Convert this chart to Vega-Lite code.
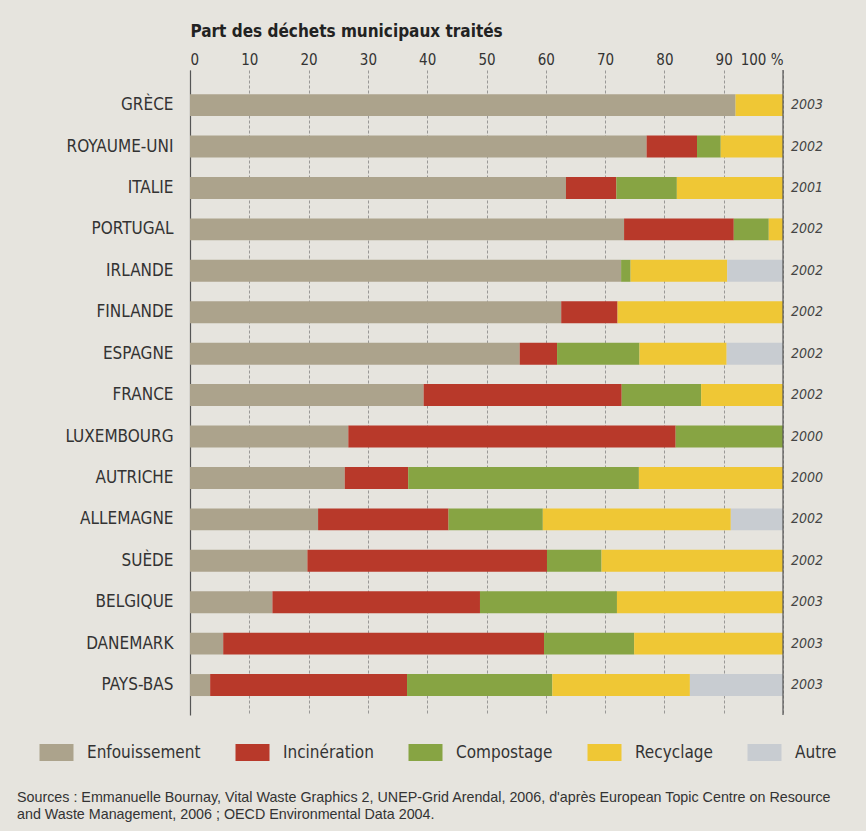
{
  "$schema": "https://vega.github.io/schema/vega-lite/v6.json",
  "width": 593,
  "height": 645,
  "autosize": {"type": "none"},
  "padding": {"left": 190, "top": 70, "right": 83, "bottom": 116},
  "background": "#e6e4de",
  "config": {"view": {"stroke": null}, "font": "Liberation Sans Narrow, DejaVu Sans Condensed, Roboto Condensed, Roboto, sans-serif"},
  "title": {
    "text": ["Sources : Emmanuelle Bournay, Vital Waste Graphics 2,  UNEP-Grid Arendal, 2006, d'après European Topic Centre on Resource", "and Waste Management, 2006 ; OECD Environmental Data 2004."],
    "orient": "bottom",
    "anchor": "start",
    "frame": "group",
    "font": "Liberation Sans, Arial, sans-serif",
    "fontSize": 14.3,
    "fontWeight": "normal",
    "color": "#333",
    "dx": -173,
    "offset": 30,
    "lineHeight": 17
  },
  "datasets": {
    "valeurs": [
      {"pays": "GRÈCE", "type": "Enfouissement", "rang": 1, "valeur": 92},
      {"pays": "GRÈCE", "type": "Recyclage", "rang": 4, "valeur": 8},
      {"pays": "ROYAUME-UNI", "type": "Enfouissement", "rang": 1, "valeur": 77},
      {"pays": "ROYAUME-UNI", "type": "Incinération", "rang": 2, "valeur": 8.5},
      {"pays": "ROYAUME-UNI", "type": "Compostage", "rang": 3, "valeur": 4},
      {"pays": "ROYAUME-UNI", "type": "Recyclage", "rang": 4, "valeur": 10.5},
      {"pays": "ITALIE", "type": "Enfouissement", "rang": 1, "valeur": 63.4},
      {"pays": "ITALIE", "type": "Incinération", "rang": 2, "valeur": 8.5},
      {"pays": "ITALIE", "type": "Compostage", "rang": 3, "valeur": 10.2},
      {"pays": "ITALIE", "type": "Recyclage", "rang": 4, "valeur": 17.9},
      {"pays": "PORTUGAL", "type": "Enfouissement", "rang": 1, "valeur": 73.2},
      {"pays": "PORTUGAL", "type": "Incinération", "rang": 2, "valeur": 18.5},
      {"pays": "PORTUGAL", "type": "Compostage", "rang": 3, "valeur": 5.9},
      {"pays": "PORTUGAL", "type": "Recyclage", "rang": 4, "valeur": 2.4},
      {"pays": "IRLANDE", "type": "Enfouissement", "rang": 1, "valeur": 72.7},
      {"pays": "IRLANDE", "type": "Compostage", "rang": 3, "valeur": 1.6},
      {"pays": "IRLANDE", "type": "Recyclage", "rang": 4, "valeur": 16.3},
      {"pays": "IRLANDE", "type": "Autre", "rang": 5, "valeur": 9.4},
      {"pays": "FINLANDE", "type": "Enfouissement", "rang": 1, "valeur": 62.6},
      {"pays": "FINLANDE", "type": "Incinération", "rang": 2, "valeur": 9.5},
      {"pays": "FINLANDE", "type": "Recyclage", "rang": 4, "valeur": 27.9},
      {"pays": "ESPAGNE", "type": "Enfouissement", "rang": 1, "valeur": 55.6},
      {"pays": "ESPAGNE", "type": "Incinération", "rang": 2, "valeur": 6.3},
      {"pays": "ESPAGNE", "type": "Compostage", "rang": 3, "valeur": 13.9},
      {"pays": "ESPAGNE", "type": "Recyclage", "rang": 4, "valeur": 14.7},
      {"pays": "ESPAGNE", "type": "Autre", "rang": 5, "valeur": 9.5},
      {"pays": "FRANCE", "type": "Enfouissement", "rang": 1, "valeur": 39.4},
      {"pays": "FRANCE", "type": "Incinération", "rang": 2, "valeur": 33.4},
      {"pays": "FRANCE", "type": "Compostage", "rang": 3, "valeur": 13.4},
      {"pays": "FRANCE", "type": "Recyclage", "rang": 4, "valeur": 13.8},
      {"pays": "LUXEMBOURG", "type": "Enfouissement", "rang": 1, "valeur": 26.7},
      {"pays": "LUXEMBOURG", "type": "Incinération", "rang": 2, "valeur": 55.2},
      {"pays": "LUXEMBOURG", "type": "Compostage", "rang": 3, "valeur": 18.1},
      {"pays": "AUTRICHE", "type": "Enfouissement", "rang": 1, "valeur": 26.1},
      {"pays": "AUTRICHE", "type": "Incinération", "rang": 2, "valeur": 10.7},
      {"pays": "AUTRICHE", "type": "Compostage", "rang": 3, "valeur": 38.9},
      {"pays": "AUTRICHE", "type": "Recyclage", "rang": 4, "valeur": 24.3},
      {"pays": "ALLEMAGNE", "type": "Enfouissement", "rang": 1, "valeur": 21.6},
      {"pays": "ALLEMAGNE", "type": "Incinération", "rang": 2, "valeur": 22.0},
      {"pays": "ALLEMAGNE", "type": "Compostage", "rang": 3, "valeur": 15.9},
      {"pays": "ALLEMAGNE", "type": "Recyclage", "rang": 4, "valeur": 31.7},
      {"pays": "ALLEMAGNE", "type": "Autre", "rang": 5, "valeur": 8.8},
      {"pays": "SUÈDE", "type": "Enfouissement", "rang": 1, "valeur": 19.8},
      {"pays": "SUÈDE", "type": "Incinération", "rang": 2, "valeur": 40.4},
      {"pays": "SUÈDE", "type": "Compostage", "rang": 3, "valeur": 9.2},
      {"pays": "SUÈDE", "type": "Recyclage", "rang": 4, "valeur": 30.6},
      {"pays": "BELGIQUE", "type": "Enfouissement", "rang": 1, "valeur": 13.9},
      {"pays": "BELGIQUE", "type": "Incinération", "rang": 2, "valeur": 35.0},
      {"pays": "BELGIQUE", "type": "Compostage", "rang": 3, "valeur": 23.1},
      {"pays": "BELGIQUE", "type": "Recyclage", "rang": 4, "valeur": 28.0},
      {"pays": "DANEMARK", "type": "Enfouissement", "rang": 1, "valeur": 5.6},
      {"pays": "DANEMARK", "type": "Incinération", "rang": 2, "valeur": 54.1},
      {"pays": "DANEMARK", "type": "Compostage", "rang": 3, "valeur": 15.2},
      {"pays": "DANEMARK", "type": "Recyclage", "rang": 4, "valeur": 25.1},
      {"pays": "PAYS-BAS", "type": "Enfouissement", "rang": 1, "valeur": 3.4},
      {"pays": "PAYS-BAS", "type": "Incinération", "rang": 2, "valeur": 33.2},
      {"pays": "PAYS-BAS", "type": "Compostage", "rang": 3, "valeur": 24.5},
      {"pays": "PAYS-BAS", "type": "Recyclage", "rang": 4, "valeur": 23.2},
      {"pays": "PAYS-BAS", "type": "Autre", "rang": 5, "valeur": 15.7}
    ],
    "annees": [
      {"pays": "GRÈCE", "annee": "2003"},
      {"pays": "ROYAUME-UNI", "annee": "2002"},
      {"pays": "ITALIE", "annee": "2001"},
      {"pays": "PORTUGAL", "annee": "2002"},
      {"pays": "IRLANDE", "annee": "2002"},
      {"pays": "FINLANDE", "annee": "2002"},
      {"pays": "ESPAGNE", "annee": "2002"},
      {"pays": "FRANCE", "annee": "2002"},
      {"pays": "LUXEMBOURG", "annee": "2000"},
      {"pays": "AUTRICHE", "annee": "2000"},
      {"pays": "ALLEMAGNE", "annee": "2002"},
      {"pays": "SUÈDE", "annee": "2002"},
      {"pays": "BELGIQUE", "annee": "2003"},
      {"pays": "DANEMARK", "annee": "2003"},
      {"pays": "PAYS-BAS", "annee": "2003"}
    ]
  },
  "layer": [
    {
      "data": {"name": "valeurs"},
      "mark": {"type": "bar"},
      "encoding": {
        "y": {
          "field": "pays",
          "type": "nominal",
          "sort": ["GRÈCE", "ROYAUME-UNI", "ITALIE", "PORTUGAL", "IRLANDE", "FINLANDE", "ESPAGNE", "FRANCE", "LUXEMBOURG", "AUTRICHE", "ALLEMAGNE", "SUÈDE", "BELGIQUE", "DANEMARK", "PAYS-BAS"],
          "scale": {"paddingInner": 0.47, "paddingOuter": 0.52, "align": 0.56},
          "axis": {
            "title": null,
            "ticks": false,
            "labelFontSize": 17,
            "labelColor": "#333",
            "labelPadding": 17,
            "domainColor": "#555",
            "domainWidth": 1.2,
            "grid": false
          }
        },
        "x": {
          "field": "valeur",
          "type": "quantitative",
          "stack": "zero",
          "scale": {"domain": [0, 100], "nice": false},
          "axis": {
            "orient": "top",
            "values": [0, 10, 20, 30, 40, 50, 60, 70, 80, 90, 100],
            "ticks": false,
            "domain": false,
            "grid": true,
            "gridColor": "#777",
            "gridDash": [3, 2],
            "gridWidth": 0.7,
            "labelFontSize": 15,
            "labelColor": "#333",
            "labelPadding": 3,
            "labelExpr": "datum.value == 100 ? '100 %' : datum.label",
            "title": "Part des déchets municipaux traités",
            "titleFontSize": 17,
            "titleFontWeight": "bold",
            "titleColor": "#222",
            "titleAnchor": "start",
            "titleAlign": "left",
            "titlePadding": 12
          }
        },
        "color": {
          "field": "type",
          "type": "nominal",
          "scale": {
            "domain": ["Enfouissement", "Incinération", "Compostage", "Recyclage", "Autre"],
            "range": ["#aca38c", "#b8392a", "#87a443", "#efc735", "#c8ccd1"]
          },
          "legend": {
            "title": null,
            "orient": "none",
            "legendX": -142,
            "legendY": 674,
            "direction": "horizontal",
            "columns": 5,
            "symbolType": "M-2,-1H2V1H-2Z",
            "symbolSize": 289,
            "symbolStrokeWidth": 0,
            "symbolOpacity": 1,
            "labelFontSize": 17,
            "labelColor": "#333",
            "labelOffset": 22,
            "columnPadding": 34
          }
        },
        "order": {"field": "rang", "type": "quantitative"}
      }
    },
    {
      "data": {"values": [{}]},
      "mark": {"type": "rule", "color": "#555", "strokeWidth": 1.2},
      "encoding": {"x": {"datum": 100}}
    },
    {
      "data": {"name": "annees"},
      "mark": {"type": "text", "align": "left", "dx": 8, "fontStyle": "italic", "fontSize": 14, "color": "#444"},
      "encoding": {
        "y": {"field": "pays", "type": "nominal", "sort": ["GRÈCE", "ROYAUME-UNI", "ITALIE", "PORTUGAL", "IRLANDE", "FINLANDE", "ESPAGNE", "FRANCE", "LUXEMBOURG", "AUTRICHE", "ALLEMAGNE", "SUÈDE", "BELGIQUE", "DANEMARK", "PAYS-BAS"]},
        "x": {"datum": 100},
        "text": {"field": "annee"}
      }
    }
  ]
}
